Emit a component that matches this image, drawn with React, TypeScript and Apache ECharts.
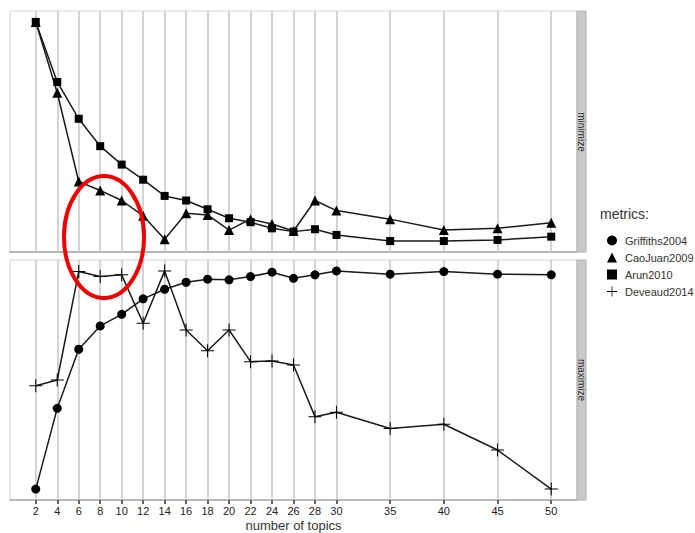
import React, { useEffect, useRef } from "react";
import * as echarts from "echarts";

const topics = [2, 4, 6, 8, 10, 12, 14, 16, 18, 20, 22, 24, 26, 28, 30, 35, 40, 45, 50];
const caoJuan2009 = [1.0, 0.677, 0.272, 0.231, 0.185, 0.115, 0.008, 0.127, 0.119, 0.05, 0.1, 0.078, 0.046, 0.185, 0.139, 0.1, 0.05, 0.058, 0.084];
const arun2010 = [1.0, 0.726, 0.558, 0.433, 0.349, 0.28, 0.206, 0.185, 0.145, 0.104, 0.086, 0.058, 0.043, 0.054, 0.028, 0.0, 0.0, 0.005, 0.02];
const griffiths2004 = [0.0, 0.37, 0.641, 0.748, 0.801, 0.872, 0.916, 0.948, 0.962, 0.959, 0.974, 0.994, 0.966, 0.982, 1.0, 0.985, 0.997, 0.985, 0.982];
const deveaud2014 = [0.474, 0.5, 0.997, 0.974, 0.982, 0.76, 1.0, 0.729, 0.634, 0.729, 0.584, 0.587, 0.569, 0.332, 0.352, 0.278, 0.297, 0.179, 0.0];
const panelLabels = ["minimize", "maximize"];
const legendTitle = "metrics:";
const xTitle = "number of topics";

const PLUS = "path://M0,4.6H10V5.4H0Z M4.6,0H5.4V10H4.6Z";

export default function App() {
  const ref = useRef<HTMLDivElement>(null);
  useEffect(() => {
    if (!ref.current) return;
    const chart = echarts.init(ref.current, undefined, { renderer: "svg" });
    const pairs = (ys: number[]) => topics.map((x, i) => [x, ys[i]]);
    const gridLines = {
      silent: true,
      symbol: "none",
      z: 1,
      label: { show: false },
      lineStyle: { color: "#c6c6c6", width: 1.5, type: "solid" },
      emphasis: { disabled: true },
      data: topics.map((v) => ({ xAxis: v })),
    };
    const lineStyle = { color: "#1a1a1a", width: 1.5 };
    const itemStyle = { color: "#000" };
    const xBase = {
      type: "value",
      min: -0.4,
      max: 52.4,
      splitLine: { show: false },
    };
    const yBase = {
      type: "value",
      min: -0.05,
      max: 1.05,
      axisLine: { show: false },
      axisTick: { show: false },
      axisLabel: { show: false },
      splitLine: { show: false },
    };
    chart.setOption({
      animation: false,
      grid: [
        { left: 10, top: 11, width: 567, height: 241, show: true, borderColor: "#d4d4d4", borderWidth: 1, backgroundColor: "#fff" },
        { left: 10, top: 260, width: 567, height: 240, show: true, borderColor: "#d4d4d4", borderWidth: 1, backgroundColor: "#fff" },
      ],
      xAxis: [
        {
          ...xBase,
          gridIndex: 0,
          axisLine: { show: true, onZero: false, lineStyle: { color: "#b4b4b4", width: 2 } },
          axisTick: { show: false },
          axisLabel: { show: false },
        },
        {
          ...xBase,
          gridIndex: 1,
          name: xTitle,
          nameLocation: "middle",
          nameGap: 19,
          nameTextStyle: { fontSize: 13, color: "#333", fontFamily: "Liberation Sans" },
          axisLine: { show: true, onZero: false, lineStyle: { color: "#a8a8a8", width: 1.5 } },
          axisTick: { show: true, customValues: topics, length: 4, lineStyle: { color: "#333", width: 1.5 } },
          axisLabel: { show: true, customValues: topics, fontSize: 11, color: "#222", margin: 5, fontFamily: "Liberation Sans" },
        },
      ],
      yAxis: [
        { ...yBase, gridIndex: 0 },
        { ...yBase, gridIndex: 1 },
      ],
      legend: {
        orient: "vertical",
        left: 602,
        top: 230,
        itemWidth: 10,
        itemHeight: 10,
        itemGap: 6,
        textStyle: { fontSize: 11, color: "#333", fontFamily: "Liberation Sans", padding: [0, 0, 0, 3] },
        data: [
          { name: "Griffiths2004", icon: "circle" },
          { name: "CaoJuan2009", icon: "triangle" },
          { name: "Arun2010", icon: "rect" },
          { name: "Deveaud2014", icon: PLUS },
        ],
        itemStyle: { color: "#000" },
        lineStyle: { width: 0 },
      },
      series: [
        {
          name: "CaoJuan2009",
          type: "line",
          xAxisIndex: 0,
          yAxisIndex: 0,
          data: pairs(caoJuan2009),
          symbol: "triangle",
          symbolSize: 10,
          lineStyle,
          itemStyle,
          markLine: gridLines,
        },
        {
          name: "Arun2010",
          type: "line",
          xAxisIndex: 0,
          yAxisIndex: 0,
          data: pairs(arun2010),
          symbol: "rect",
          symbolSize: 8,
          lineStyle,
          itemStyle,
        },
        {
          name: "Griffiths2004",
          type: "line",
          xAxisIndex: 1,
          yAxisIndex: 1,
          data: pairs(griffiths2004),
          symbol: "circle",
          symbolSize: 9,
          lineStyle,
          itemStyle,
          markLine: gridLines,
        },
        {
          name: "Deveaud2014",
          type: "line",
          xAxisIndex: 1,
          yAxisIndex: 1,
          data: pairs(deveaud2014),
          symbol: PLUS,
          symbolSize: 13,
          lineStyle,
          itemStyle,
        },
      ],
      graphic: [
        { type: "rect", shape: { x: 577, y: 11, width: 9, height: 241 }, style: { fill: "#c9c9c9", stroke: "#b0b0b0", lineWidth: 1 }, silent: true },
        { type: "rect", shape: { x: 577, y: 260, width: 9, height: 240 }, style: { fill: "#c9c9c9", stroke: "#b0b0b0", lineWidth: 1 }, silent: true },
        {
          type: "text",
          x: 581.5,
          y: 132,
          rotation: -Math.PI / 2,
          style: { text: panelLabels[0], fontSize: 10, fill: "#333", align: "center", verticalAlign: "middle", fontFamily: "Liberation Sans" },
          silent: true,
        },
        {
          type: "text",
          x: 581.5,
          y: 380,
          rotation: -Math.PI / 2,
          style: { text: panelLabels[1], fontSize: 10, fill: "#333", align: "center", verticalAlign: "middle", fontFamily: "Liberation Sans" },
          silent: true,
        },
        {
          type: "text",
          left: 600,
          top: 207,
          style: { text: legendTitle, fontSize: 14, fill: "#333", fontFamily: "Liberation Sans" },
          silent: true,
        },
        {
          type: "ellipse",
          shape: { cx: 104, cy: 237, rx: 40, ry: 61 },
          style: { fill: "none", stroke: "#ee0000", lineWidth: 4 },
          z: 100,
          silent: true,
        },
      ],
    });
    return () => chart.dispose();
  }, []);
  return <div ref={ref} style={{ width: 695, height: 533, position: "absolute", left: 0, top: 0 }} />;
}
